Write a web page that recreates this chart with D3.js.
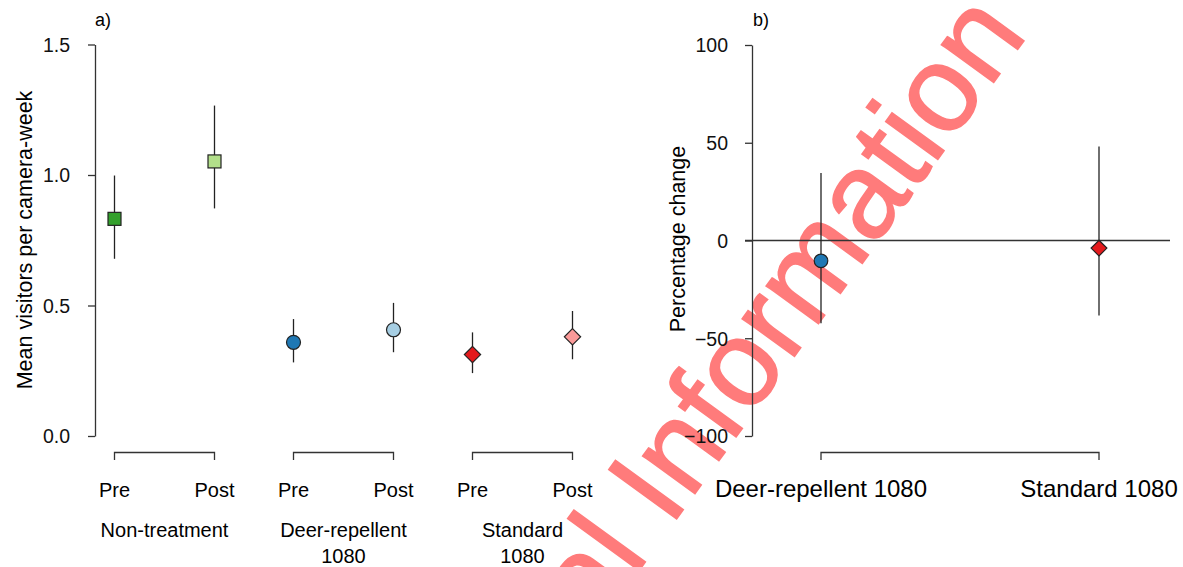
<!DOCTYPE html>
<html>
<head>
<meta charset="utf-8">
<script src="https://cdn.jsdelivr.net/npm/d3@7"></script>
<style>
  body { margin: 0; background: #fff; }
  svg { display: block; font-family: "Liberation Sans", Arial, sans-serif; }
  .axis path, .axis line { stroke: #333; stroke-width: 1.3; }
  .axis text { font-size: 19.5px; fill: #111; }
</style>
</head>
<body>
<svg id="chart" width="1183" height="567"></svg>
<script>
// panel a data
const groups = ['Non-treatment', 'Deer-repellent\n1080', 'Standard\n1080'];
const phases = ['Pre', 'Post'];
const meanA = [0.832, 1.052, 0.359, 0.407, 0.312, 0.380];
const lowA  = [0.679, 0.872, 0.282, 0.321, 0.241, 0.294];
const highA = [0.998, 1.266, 0.448, 0.510, 0.397, 0.479];
const fillA = ['#33a02c', '#b2df8a', '#1f78b4', '#a6cee3', '#e31a1c', '#fb9a99'];
const shapeA = ['square', 'square', 'circle', 'circle', 'diamond', 'diamond'];
const ticksA = [0, 0.5, 1.0, 1.5];

// panel b data
const treatments = ['Deer-repellent 1080', 'Standard 1080'];
const meanB = [-10.4, -3.9];
const lowB  = [-42.3, -38.4];
const highB = [34.5, 48.1];
const fillB = ['#1f78b4', '#e31a1c'];
const shapeB = ['circle', 'diamond'];
const ticksB = [-100, -50, 0, 50, 100];

const svg = d3.select('#chart');

// watermark sits underneath the figure
const wmSize = 122;
const wm = svg.append('g')
    .attr('transform', 'translate(670,528) rotate(-54)')
    .attr('font-size', wmSize).attr('font-weight', 'bold').attr('fill', '#ff7b7b');
wm.append('text').attr('x', -0.278 * wmSize).attr('text-anchor', 'end')
    .attr('font-weight', 'normal').attr('stroke', '#ff7b7b').attr('stroke-width', 1.5)
    .text('Supplemental');
wm.append('text').attr('x', 0)
    .attr('font-weight', 'normal').attr('stroke', '#ff7b7b').attr('stroke-width', 1.5)
    .text('Information');

function drawMarker(g, shape, x, y, fill, size) {
    if (shape === 'square') {
        g.append('rect')
            .attr('x', x - size).attr('y', y - size)
            .attr('width', size * 2).attr('height', size * 2)
            .attr('fill', fill).attr('stroke', '#222').attr('stroke-width', 1.2);
    } else if (shape === 'circle') {
        g.append('circle')
            .attr('cx', x).attr('cy', y).attr('r', size + 0.5)
            .attr('fill', fill).attr('stroke', '#222').attr('stroke-width', 1.2);
    } else {
        const d = size * 1.25;
        g.append('path')
            .attr('d', `M${x},${y - d}L${x + d},${y}L${x},${y + d}L${x - d},${y}Z`)
            .attr('fill', fill).attr('stroke', '#222').attr('stroke-width', 1.2);
    }
}

// ---- panel a ----
const yA = d3.scaleLinear().domain([0, 1.5]).range([436, 44.5]);
const xGroup = d3.scalePoint().domain(groups).range([164.5, 522.5]);
const xPhase = d3.scalePoint().domain(phases).range([-50, 50]);
const posA = (i) => xGroup(groups[Math.floor(i / 2)]) + xPhase(phases[i % 2]);

svg.append('g')
    .attr('class', 'axis')
    .attr('transform', 'translate(95,0)')
    .call(d3.axisLeft(yA).tickValues(ticksA).tickFormat(d3.format('.1f'))
        .tickSize(7).tickSizeOuter(0).tickPadding(18))
    .call(g => g.selectAll('text').attr('dy', '0.35em'));

svg.append('text')
    .attr('transform', 'translate(32,240) rotate(-90)')
    .attr('text-anchor', 'middle')
    .attr('font-size', 21.5)
    .text('Mean visitors per camera-week');

svg.append('text').attr('x', 95).attr('y', 26).attr('font-size', 18).text('a)');

const markA = svg.append('g');
meanA.forEach((m, i) => {
    const x = posA(i);
    markA.append('line')
        .attr('x1', x).attr('x2', x)
        .attr('y1', yA(lowA[i])).attr('y2', yA(highA[i]))
        .attr('stroke', '#222').attr('stroke-width', 1.3);
    drawMarker(markA, shapeA[i], x, yA(m), fillA[i], 6.5);
});

// brackets and labels under panel a
const labA = svg.append('g');
groups.forEach(gname => {
    const x0 = xGroup(gname) + xPhase('Pre');
    const x1 = xGroup(gname) + xPhase('Post');
    labA.append('path')
        .attr('d', `M${x0},460V452.5H${x1}V460`)
        .attr('fill', 'none').attr('stroke', '#333').attr('stroke-width', 1.3);
    phases.forEach(p => {
        labA.append('text')
            .attr('x', xGroup(gname) + xPhase(p)).attr('y', 497)
            .attr('text-anchor', 'middle').attr('font-size', 20)
            .text(p);
    });
    gname.split('\n').forEach((line, k) => {
        labA.append('text')
            .attr('x', xGroup(gname)).attr('y', 537 + k * 25.5)
            .attr('text-anchor', 'middle').attr('font-size', 20)
            .text(line);
    });
});

// ---- panel b ----
const yB = d3.scaleLinear().domain([-100, 100]).range([436, 45]);
const xB = d3.scalePoint().domain(treatments).range([821, 1099]);

svg.append('g')
    .attr('class', 'axis')
    .attr('transform', 'translate(752,0)')
    .call(d3.axisLeft(yB).tickValues(ticksB)
        .tickSize(7).tickSizeOuter(0).tickPadding(17))
    .call(g => g.selectAll('text').attr('dy', '0.35em'));

svg.append('line')
    .attr('x1', 745).attr('x2', 1170)
    .attr('y1', yB(0)).attr('y2', yB(0))
    .attr('stroke', '#333').attr('stroke-width', 1.3);

svg.append('text')
    .attr('transform', 'translate(685,239) rotate(-90)')
    .attr('text-anchor', 'middle')
    .attr('font-size', 21.5)
    .text('Percentage change');

svg.append('text').attr('x', 753).attr('y', 26).attr('font-size', 18).text('b)');

const markB = svg.append('g');
meanB.forEach((m, i) => {
    const x = xB(treatments[i]);
    markB.append('line')
        .attr('x1', x).attr('x2', x)
        .attr('y1', yB(lowB[i])).attr('y2', yB(highB[i]))
        .attr('stroke', '#222').attr('stroke-width', 1.3);
    drawMarker(markB, shapeB[i], x, yB(m), fillB[i], 6.3);
});

svg.append('path')
    .attr('d', `M${xB(treatments[0])},460V452.5H${xB(treatments[1])}V460`)
    .attr('fill', 'none').attr('stroke', '#333').attr('stroke-width', 1.3);

treatments.forEach(t => {
    svg.append('text')
        .attr('x', xB(t)).attr('y', 497)
        .attr('text-anchor', 'middle').attr('font-size', 24)
        .text(t);
});
</script>
</body>
</html>
